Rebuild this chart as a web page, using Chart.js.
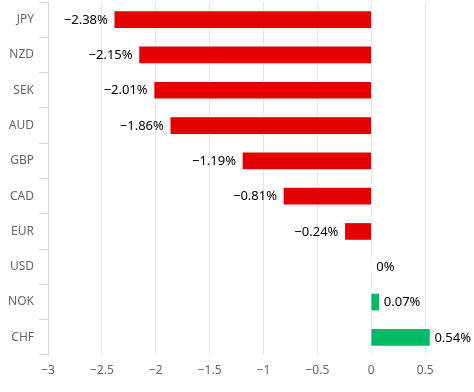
<!DOCTYPE html>
<html>
<head>
<meta charset="utf-8">
<script src="https://cdn.jsdelivr.net/npm/chart.js@4"></script>
<style>
  body { margin: 0; background: #fff; }
  #wrap { width: 474px; height: 392px; overflow: hidden; }
</style>
</head>
<body>
<div id="wrap"><canvas id="fxChart" width="500" height="392"></canvas></div>
<script>
// currency performance vs USD, in %
var currencies = ["JPY", "NZD", "SEK", "AUD", "GBP", "CAD", "EUR", "USD", "NOK", "CHF"];
var changes = [-2.38, -2.15, -2.01, -1.86, -1.19, -0.81, -0.24, 0, 0.07, 0.54];
var xMin = -3, xMax = 1, xStep = 0.5;

var fontFamily = "'Noto Sans', 'Open Sans', sans-serif";

function fmt(v) {
  // use a real minus sign like the original
  return v < 0 ? "\u2212" + Math.abs(v) : "" + v;
}

var valueLabels = {
  id: "valueLabels",
  afterDatasetsDraw: function(chart) {
    var ctx = chart.ctx;
    var meta = chart.getDatasetMeta(0);
    ctx.save();
    ctx.font = "13px " + fontFamily;
    ctx.fillStyle = "#000";
    ctx.textBaseline = "middle";
    meta.data.forEach(function(bar, i) {
      var v = changes[i];
      var txt = fmt(v) + "%";
      if (v < 0) {
        ctx.textAlign = "right";
        ctx.fillText(txt, bar.x - 7, bar.y + 0.5);
      } else {
        ctx.textAlign = "left";
        ctx.fillText(txt, bar.x + 5, bar.y + 0.5);
      }
    });
    ctx.restore();
  }
};

var chart = new Chart("fxChart", {
  type: "bar",
  data: {
    labels: currencies,
    datasets: [{
      data: changes,
      backgroundColor: function(c) {
        if (c.raw === 0) return "#ffffff";
        return c.raw < 0 ? "#e50000" : "#00bb66";
      },
      barThickness: 16,
      borderWidth: 0
    }]
  },
  options: {
    indexAxis: "y",
    responsive: false,
    animation: false,
    layout: { padding: { left: 0, right: 21, top: 2, bottom: 0 } },
    plugins: {
      legend: { display: false },
      tooltip: { enabled: false }
    },
    scales: {
      x: {
        min: xMin,
        max: xMax,
        ticks: {
          stepSize: xStep,
          color: "#666",
          padding: 8,
          maxRotation: 0,
          font: { family: fontFamily, size: 12 },
          callback: function(v) { return fmt(v); }
        },
        grid: { color: "#e6e6e6", drawTicks: false },
        border: { display: false },
        afterFit: function(s) { s.height = 37; }
      },
      y: {
        ticks: {
          color: "#666",
          padding: 5,
          font: { family: fontFamily, size: 12 }
        },
        grid: {
          offset: true,
          drawOnChartArea: false,
          color: "#ccd6eb",
          tickLength: 9
        },
        border: { color: "#ccd6eb", width: 1 },
        afterFit: function(s) {
          s.width = 48;
          s.paddingTop = 0;
          s.paddingBottom = 0;
        }
      }
    }
  },
  plugins: [valueLabels]
});
</script>
</body>
</html>
